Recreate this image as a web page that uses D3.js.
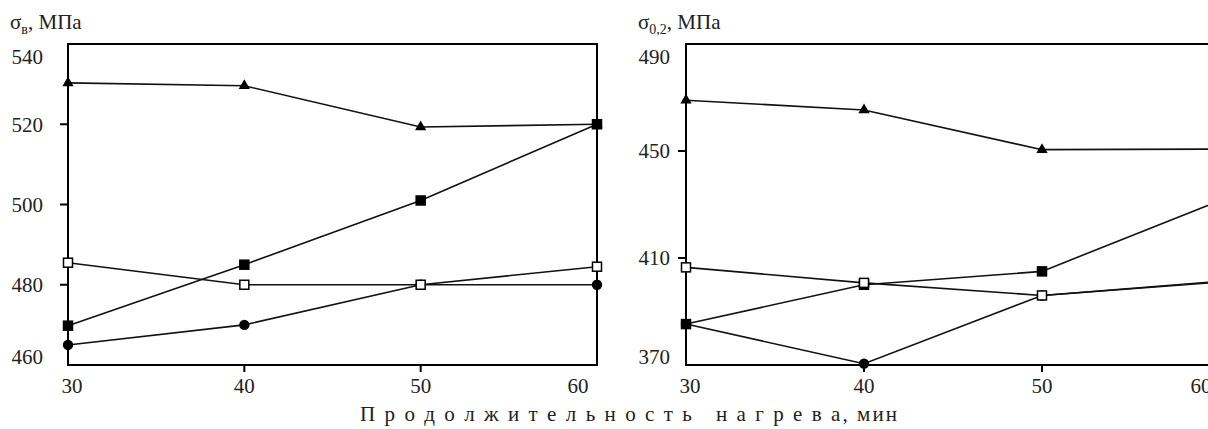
<!DOCTYPE html>
<html>
    <head>
        <script src="https://d3js.org/d3.v7.min.js"></script>
    </head>
    <body style="margin:0">
        <svg height="429" width="1208" id="chart" style="font-family:'Liberation Serif'"></svg>
        <script>
            const fontName="'Liberation Serif'";

            // heating time, min
            const minutes=[30, 40, 50, 60];

            // sigma_b, MPa (left panel)
            const uts_triangle=[530.3, 529.6, 519.3, 520];
            const uts_squareFilled=[469.8, 485, 501, 520];
            const uts_squareOpen=[485.5, 480, 480, 484.5];
            const uts_circle=[465, 470, 480, 480];
            const utsTicks=[460, 480, 500, 520, 540];

            // sigma_0.2, MPa (right panel)
            const ys_triangle=[469, 465.3, 450.5, 450.7];
            const ys_squareFilled=[385.3, 400, 405, 431.5];
            const ys_squareOpen=[406.5, 400.7, 396, 401.3];
            const ys_circle=[385.3, 370.5, 396, 401];
            const ysTicks=[370, 410, 450, 490];

            let svg=d3.select("#chart");
            let plotTop=44, plotBottom=365;

            function addText(parent){
                return parent.append("text")
                    .style("font-family", fontName)
                    .style("font-size","21px")
                    .style("fill","#222");
            }

            function drawPanel(opt){
                let g=svg.append("g");
                let x=d3.scaleLinear().domain([30,60]).range([opt.left, opt.right]);
                let y=d3.scaleLinear().domain(opt.domain).range([plotBottom, plotTop]);

                // lines, circles first so the squares sit on top
                let series=[
                    {vals:opt.circle, type:"circle"},
                    {vals:opt.triangle, type:"triangle"},
                    {vals:opt.squareFilled, type:"squareFilled"},
                    {vals:opt.squareOpen, type:"squareOpen"}
                ];
                let line=d3.line().x((d,i)=>x(minutes[i])).y(d=>y(d));
                series.forEach(s=>{
                    g.append("path")
                        .datum(s.vals)
                        .attr("d", line)
                        .style("fill","none")
                        .style("stroke","#111")
                        .style("stroke-width",1.6);
                });

                // frame
                g.append("rect")
                    .attr("x", opt.left).attr("y", plotTop)
                    .attr("width", opt.right-opt.left).attr("height", plotBottom-plotTop)
                    .style("fill","none").style("stroke","#000").style("stroke-width",2);

                // y ticks (inner values only) and labels
                opt.ticks.forEach((t,i)=>{
                    if(i>0 && i<opt.ticks.length-1){
                        g.append("line")
                            .attr("x1", opt.left-8).attr("x2", opt.left)
                            .attr("y1", y(t)).attr("y2", y(t))
                            .style("stroke","#000").style("stroke-width",2);
                    }
                    let ly=Math.max(57, Math.min(357, y(t)));
                    addText(g)
                        .attr("x", opt.left-opt.labelGap)
                        .attr("y", ly)
                        .attr("dy","0.35em")
                        .attr("text-anchor","end")
                        .text(t);
                });

                // x ticks and labels
                minutes.forEach((m,i)=>{
                    if(i>0 && i<minutes.length-1){
                        g.append("line")
                            .attr("x1", x(m)).attr("x2", x(m))
                            .attr("y1", plotBottom).attr("y2", plotBottom+7)
                            .style("stroke","#000").style("stroke-width",2);
                    }
                    let lx=x(m);
                    if(i==0) lx+=4;
                    if(i==minutes.length-1) lx-=19;
                    addText(g)
                        .attr("x", lx).attr("y", 393)
                        .attr("text-anchor","middle")
                        .text(m);
                });

                // markers
                series.forEach(s=>{
                    s.vals.forEach((v,i)=>{
                        let cx=x(minutes[i]), cy=y(v);
                        if(s.type=="circle"){
                            g.append("circle").attr("cx",cx).attr("cy",cy).attr("r",5.2)
                                .style("fill","#000");
                        } else if(s.type=="triangle"){
                            g.append("path")
                                .attr("d", d3.symbol().type(d3.symbolTriangle).size(55)())
                                .attr("transform","translate("+cx+","+cy+")")
                                .style("fill","#000");
                        } else {
                            g.append("rect")
                                .attr("x",cx-4.5).attr("y",cy-4.5)
                                .attr("width",9).attr("height",9)
                                .style("fill", s.type=="squareFilled" ? "#000" : "#fff")
                                .style("stroke","#000").style("stroke-width",1.5);
                        }
                    });
                });

                // axis title (sigma with subscript)
                let title=addText(g).attr("x", opt.titleX).attr("y", 29);
                title.append("tspan").text("σ");
                title.append("tspan").attr("dy",5).style("font-size","14px").text(opt.sub);
                title.append("tspan").attr("dy",-5).text(", МПа");
            }

            drawPanel({left:68, right:597, domain:[460,540], ticks:utsTicks, labelGap:25,
                triangle:uts_triangle, squareFilled:uts_squareFilled, squareOpen:uts_squareOpen, circle:uts_circle,
                titleX:10, sub:"в"});

            drawPanel({left:686, right:1220, domain:[370,490], ticks:ysTicks, labelGap:16,
                triangle:ys_triangle, squareFilled:ys_squareFilled, squareOpen:ys_squareOpen, circle:ys_circle,
                titleX:638, sub:"0,2"});

            // shared x axis title, letters spaced as in the original
            addText(svg)
                .attr("x", 360).attr("y", 421)
                .attr("textLength", 537)
                .attr("lengthAdjust","spacing")
                .style("white-space","pre")
                .text("П р о д о л ж и т е л ь н о с т ь   н а г р е в а, мин");
        </script>
    </body>
</html>
